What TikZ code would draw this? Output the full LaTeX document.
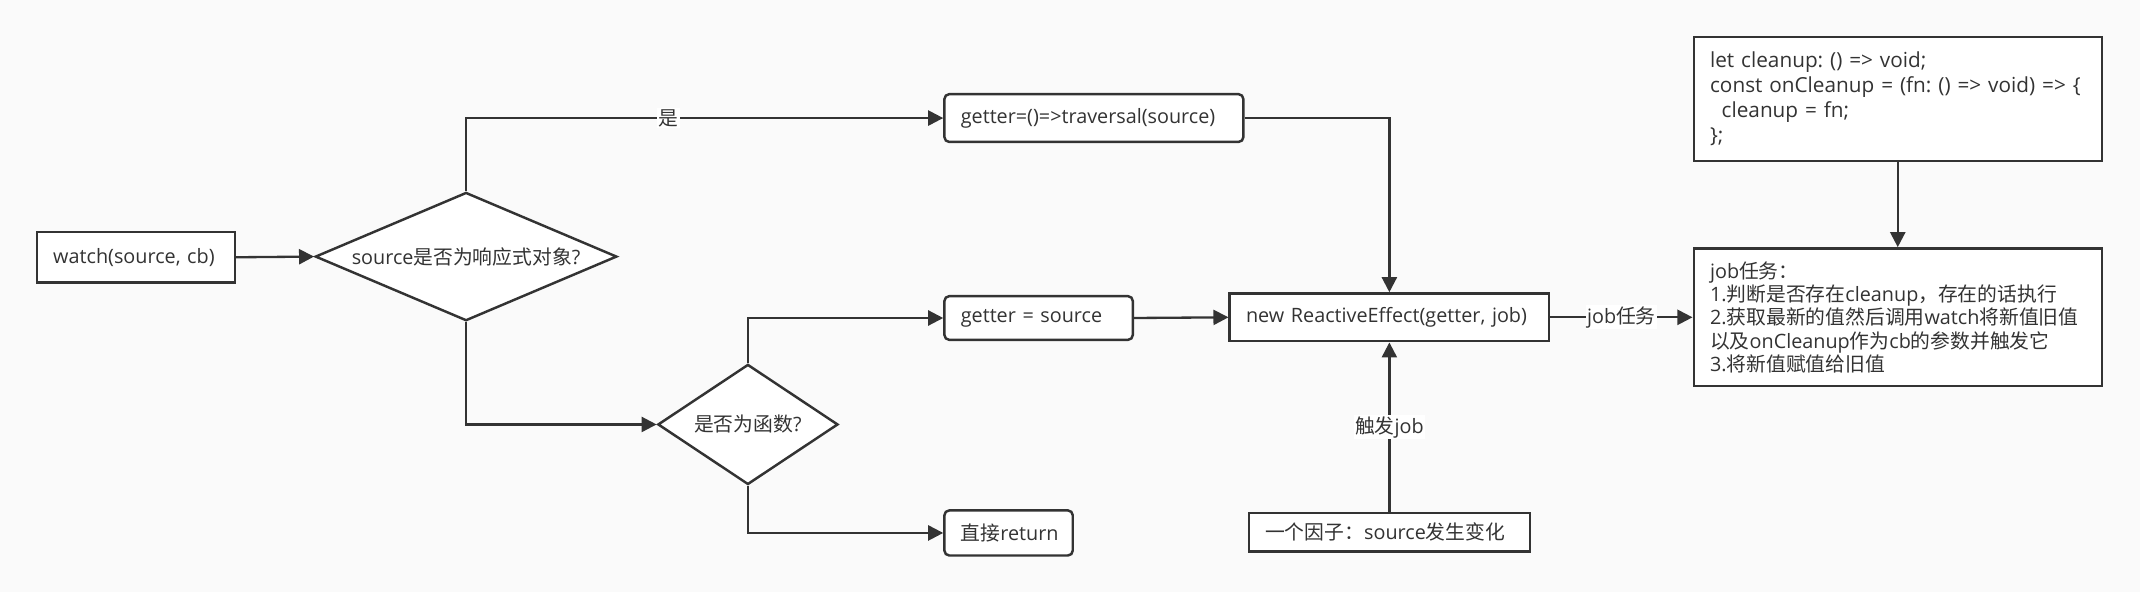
\documentclass[tikz,border=0pt]{standalone}
\usepackage{fontspec}
\setmainfont{Open Sans}
\newfontfamily\cjk{Noto Sans CJK SC}
\usetikzlibrary{arrows.meta,shapes.geometric}
\definecolor{ln}{HTML}{333333}
\definecolor{bgc}{HTML}{FAFAFA}
\frenchspacing
\tikzset{
  bx/.style={draw=ln, fill=white, line width=1.8pt, text=ln, inner xsep=12pt, inner ysep=0pt, align=left},
  rbx/.style={bx, rounded corners=3.5pt},
  dia/.style={diamond, draw=ln, fill=white, line width=1.8pt, text=ln, inner sep=0pt, align=center},
  conn/.style={draw=ln, line width=1.7pt, -{Triangle[length=11pt,width=11pt]}},
  lbl/.style={fill=white, inner sep=1pt, text=ln}
}
\begin{document}
\begin{tikzpicture}[x=1pt,y=-1pt,font=\fontsize{14.5}{17.4}\selectfont]
\useasboundingbox (0,0) rectangle (1568,434);
\fill[bgc] (0,0) rectangle (1568,434);

\node[bx, text width=121pt, minimum height=37pt] (watch) at (99.5,188.5) {watch(source, cb)};
\node[dia, minimum width=221pt, minimum height=94pt, aspect=2.35] (d1) at (341.5,188) {source{\cjk 是否为响应式对象}?};
\node[rbx, text width=195pt, minimum height=35pt] (g1) at (801.5,86.5) {getter=()=>traversal(source)};
\node[dia, minimum width=132pt, minimum height=88pt, aspect=1.5] (d2) at (548,311) {{\cjk 是否为函数}?};
\node[rbx, text width=114pt, minimum height=32pt] (g2) at (761,233) {getter = source};
\node[rbx, text width=70pt, minimum height=33pt] (ret) at (739,390.5) {{\cjk 直接}return};
\node[bx, text width=210pt, minimum height=35pt] (re) at (1018,232.5) {new ReactiveEffect(getter, job)};
\node[bx, text width=182pt, minimum height=28pt] (factor) at (1018,390) {{\cjk 一个因子：}source{\cjk 发生变化}};
\node[bx, text width=275pt, minimum height=91pt, font=\fontsize{15.2}{18.2}\selectfont] (cleanup) at (1390.5,72.5)
  {let cleanup: () => void;\\
   const onCleanup = (fn: () => void) => \{\\
   \hspace*{8.5pt}cleanup = fn;\\
   \};};
\node[bx, text width=275pt, minimum height=101pt, font=\fontsize{14.5}{17}\selectfont] (job) at (1390.5,232.5)
  {job{\cjk 任务：}\\
   1.{\cjk 判断是否存在}cleanup{\cjk ，存在的话执行}\\
   2.{\cjk 获取最新的值然后调用}watch{\cjk 将新值旧值}\\
   {\cjk 以及}onCleanup{\cjk 作为}cb{\cjk 的参数并触发它}\\
   3.{\cjk 将新值赋值给旧值}};

\draw[conn] (watch.east) -- (d1.west);
\draw[conn] (d1.north) |- node[lbl, pos=0.712] (lshi) {\cjk 是} (g1.west);
\draw[conn] (g1.east) -| (re.north);
\draw[conn] (d1.south) |- (d2.west);
\draw[conn] (d2.north) |- (g2.west);
\draw[conn] (g2.east) -- (re.west);
\draw[conn] (d2.south) |- (ret.west);
\draw[conn] (factor.north) -- node[lbl] (ltrig) {{\cjk 触发}job} (re.south);
\draw[conn] (re.east) -- node[lbl] (ljob) {job{\cjk 任务}} (job.west);
\draw[conn] (cleanup.south) -- (job.north);
\end{tikzpicture}
\end{document}
